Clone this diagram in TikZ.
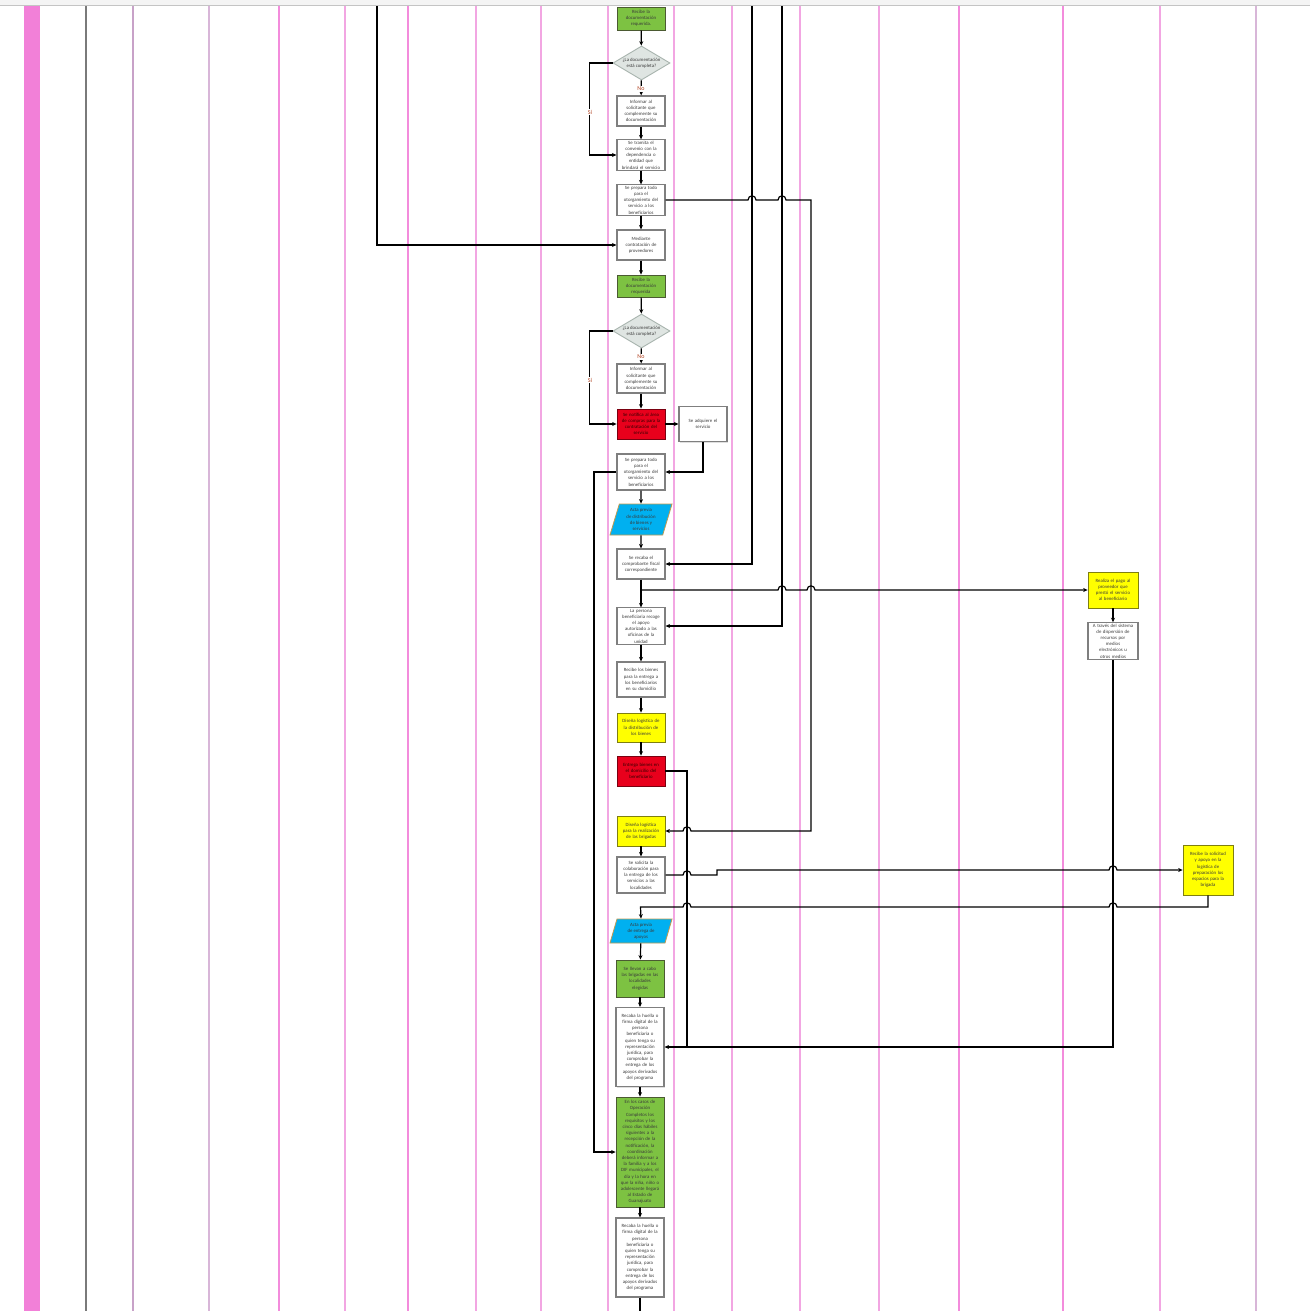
\documentclass[tikz,border=0pt]{standalone}
\usepackage{fontspec}
\setmainfont{Carlito}
\usetikzlibrary{shapes.geometric,arrows.meta,shadows}
\definecolor{topbg}{HTML}{F4F4F4}
\definecolor{topln}{HTML}{C4C4C4}
\definecolor{pinkbar}{HTML}{F280D8}
\definecolor{lgray}{HTML}{7A7A7A}
\definecolor{lmauve}{HTML}{C8A2C8}
\definecolor{lmauve2}{HTML}{D8B6D8}
\definecolor{lpink}{HTML}{F38CDC}
\definecolor{lpink2}{HTML}{F2A6E2}
\definecolor{boxgray}{HTML}{7F7F7F}
\definecolor{gfill}{HTML}{7DC242}
\definecolor{gline}{HTML}{4B5A32}
\definecolor{rfill}{HTML}{E8001C}
\definecolor{rline}{HTML}{7A0010}
\definecolor{yfill}{HTML}{FFFF00}
\definecolor{yline}{HTML}{7F7F10}
\definecolor{bfill}{HTML}{00B0F0}
\definecolor{bline}{HTML}{C09A50}
\definecolor{dfill}{HTML}{DFE5E2}
\definecolor{dline}{HTML}{A8B4AE}
\definecolor{txt}{HTML}{3A3A3A}
\definecolor{lbl}{HTML}{B0401E}
\begin{document}
\begin{tikzpicture}[x=1pt,y=-1pt,
  every node/.style={font=\fontsize{4.8}{6.2}\selectfont, text=txt},
  base/.style={align=center, minimum width=48, text width=46, inner sep=1pt,
    drop shadow={opacity=0.25,shadow xshift=1pt,shadow yshift=-1pt}},
  wbox/.style={base, draw=boxgray, line width=1.1pt, fill=white},
  gbox/.style={base, draw=gline, line width=0.8pt, fill=gfill},
  rbox/.style={base, draw=rline, line width=0.8pt, fill=rfill, text=black!80!red},
  ybox/.style={base, draw=yline, line width=0.8pt, fill=yfill},
  dia/.style={shape=diamond, draw=dline, line width=0.9pt, fill=dfill, aspect=1.7,
    inner sep=0pt, minimum width=57, minimum height=34, align=center},
  para/.style={shape=trapezium, trapezium left angle=67, trapezium right angle=113,
    trapezium stretches body, draw=bline, line width=0.8pt, fill=bfill,
    inner sep=0pt, align=center, minimum width=62},
  conn/.style={draw=black, line width=1.2pt, -{Stealth[length=4.5pt,width=4pt]}},
  plain/.style={draw=black, line width=1.2pt},
  lab/.style={fill=white, inner sep=0.6pt, text=lbl, font=\fontsize{6}{7}\selectfont},
  hopR/.style 2 args={insert path={-- (#1-4,#2) .. controls (#1-4,#2-5.5) and (#1+4,#2-5.5) .. (#1+4,#2)}},
  hopL/.style 2 args={insert path={-- (#1+4,#2) .. controls (#1+4,#2-5.5) and (#1-4,#2-5.5) .. (#1-4,#2)}}
]
\useasboundingbox (0,0) rectangle (1310,1311);
\fill[white] (0,0) rectangle (1310,1311);
\fill[topbg] (0,0) rectangle (1310,5);
\draw[topln, line width=1.6pt] (0,5.5) -- (1310,5.5);
\fill[pinkbar] (24,6.3) rectangle (40,1311);
\foreach \x/\c in {86/lgray,133/lmauve,209/lmauve2,279/lpink,345/lpink2,408/lpink,476/lpink2,541/lpink2,
  608/lpink2,674/lpink2,732/lpink2,800/lpink2,879/lpink2,959/lpink,1063/lpink,1160/lpink2,1256/lmauve2}
  \draw[\c, line width=1.6pt] (\x,6.3) -- (\x,1311);

% main column
\node[gbox, minimum height=23] (n1) at (641,18.5) {Recibe la\\documentación\\requerida.};
\node[dia] (d1) at (641.5,63) {¿La documentación\\está completa?};
\node[wbox, minimum height=30] (i1) at (641,111) {Informar al\\solicitante que\\complemente su\\documentación};
\node[wbox, minimum height=30] (t1) at (641,155) {Se tramita el\\convenio con la\\dependencia o\\entidad que\\brindará el servicio};
\node[wbox, minimum height=30] (p1) at (641,200) {Se prepara todo\\para el\\otorgamiento del\\servicio a los\\beneficiarios};
\node[wbox, minimum height=30] (m1) at (641,245) {Mediante\\contratación de\\proveedores};
\node[gbox, minimum height=22] (n2) at (641,286) {Recibe la\\documentación\\requerida};
\node[dia] (d2) at (641.5,331) {¿La documentación\\está completa?};
\node[wbox, minimum height=29] (i2) at (641,378.5) {Informar al\\solicitante que\\complemente su\\documentación};
\node[rbox, minimum height=30] (r1) at (641,424) {Se notifica al área\\de compras para la\\contratación del\\servicio};
\node[wbox, minimum height=35] (a1) at (703,424) {Se adquiere el\\servicio};
\node[wbox, minimum height=36] (p2) at (641,472) {Se prepara todo\\para el\\otorgamiento del\\servicio a los\\beneficiarios};
\node[para, minimum height=31] (b1) at (641,519.5) {Acta previa\\de distribución\\de bienes y\\servicios};
\node[wbox, minimum height=30] (c1) at (641,564) {Se recaba el\\comprobante fiscal\\correspondiente};
\node[wbox, minimum height=36] (pb) at (641,626) {La persona\\beneficiaria recoge\\el apoyo\\autorizado a las\\oficinas de la\\unidad};
\node[wbox, minimum height=35] (rb) at (641,679.5) {Recibe los bienes\\para la entrega a\\los beneficiarios\\en su domicilio};
\node[ybox, minimum height=29] (y1) at (641,727.5) {Diseña logística de\\la distribución de\\los bienes};
\node[rbox, minimum height=30] (r2) at (641,771) {Entrega bienes en\\el domicilio del\\beneficiario};
\node[ybox, minimum height=30] (y2) at (641,831) {Diseña logística\\para la realización\\de las brigadas};
\node[wbox, minimum height=36] (s1) at (641,875) {Se solicita la\\colaboración para\\la entrega de los\\servicios a las\\localidades};
\node[para, minimum height=24] (b2) at (641,931) {Acta previa\\de entrega de\\apoyos};
\node[gbox, minimum height=37] (g3) at (640,978.5) {Se llevan a cabo\\las brigadas en las\\localidades\\elegidas};
\node[wbox, minimum height=79] (h1) at (640,1047) {Recaba la huella o\\firma digital de la\\persona\\beneficiaria o\\quien tenga su\\representación\\jurídica, para\\comprobar la\\entrega de los\\apoyos derivados\\del programa};
\node[gbox, minimum height=110] (g4) at (640,1152) {En los casos de\\Operación\\Completos los\\requisitos y los\\cinco días hábiles\\siguientes a la\\recepción de la\\notificación, la\\coordinación\\deberá informar a\\la familia y a los\\DIF municipales, el\\día y la hora en\\que la niña, niño o\\adolescente llegará\\al Estado de\\Guanajuato};
\node[wbox, minimum height=79] (h2) at (640,1257.5) {Recaba la huella o\\firma digital de la\\persona\\beneficiaria o\\quien tenga su\\representación\\jurídica, para\\comprobar la\\entrega de los\\apoyos derivados\\del programa};

% right column
\node[ybox, minimum width=50, minimum height=36] (pay) at (1113,590) {Realiza el pago al\\proveedor que\\prestó el servicio\\al beneficiario};
\node[wbox, minimum width=50, minimum height=36] (disp) at (1113,641) {A través del sistema\\de dispersión de\\recursos por\\medios\\electrónicos u\\otros medios};
\node[ybox, minimum width=50, minimum height=50] (yr) at (1208,870) {Recibe la solicitud\\y apoya en la\\logística de\\preparación los\\espacios para la\\brigada};

% free ends
\coordinate (top1) at (377,6.3);
\coordinate (top2) at (752,6.3);
\coordinate (top3) at (782,6.3);
\coordinate (br) at (640.5,590);
\coordinate (bot) at (640,1311);

% connectors
\draw[conn] (n1) -- (d1);
\draw[conn] (d1) -- (i1);
\node[lab] (no1) at (641,89) {No};
\draw[conn] (i1) -- (t1);
\draw[conn] (d1.west) -- ++(-23,0) |- (t1.west);
\node[lab] (si1) at (590,112) {Sí};
\draw[conn] (t1) -- (p1);
\draw[conn] (p1) -- (m1);
\draw[conn] (m1) -- (n2);
\draw[conn] (n2) -- (d2);
\draw[conn] (d2) -- (i2);
\node[lab] (no2) at (641,357) {No};
\draw[conn] (i2) -- (r1);
\draw[conn] (d2.west) -- ++(-23,0) |- (r1.west);
\node[lab] (si2) at (590,380) {Sí};
\draw[conn] (r1) -- (a1);
\draw[conn] (a1.south) |- (p2.east);
\draw[conn] (p2) -- (b1);
\draw[conn] (b1) -- (c1);
\draw[conn] (c1) -- (pb);
\draw[conn] (pb) -- (rb);
\draw[conn] (rb) -- (y1);
\draw[conn] (y1) -- (r2);
\draw[conn] (y2) -- (s1);
\draw[conn] (b2) -- (g3);
\draw[conn] (g3) -- (h1);
\draw[conn] (h1) -- (g4);
\draw[conn] (g4) -- (h2);
\draw[plain] (h2) -- (bot);

\draw[conn] (top1) |- (m1.west);
\draw[conn] (top2) |- (c1.east);
\draw[conn] (top3) |- (pb.east);
\draw[conn] (p1.east) [hopR={752}{200}] [hopR={782}{200}] -- (811,200) -- (811,831) [hopL={687}{831}] -- (y2.east);
\draw[conn] (br) [hopR={782}{590}] [hopR={811}{590}] -- (pay.west);
\draw[conn] (pay) -- (disp);
\draw[conn] (disp.south) -- (1113,1047) -- (h1.east);
\draw[plain] (r2.east) -| (687,1047);
\draw[conn] (s1.east) [hopR={687}{875}] -- (717,875) -- (717,870) [hopR={1113}{870}] -- (yr.west);
\draw[conn] (yr.south) -- (1208,907) [hopL={1113}{907}] [hopL={687}{907}] -- (640.5,907) -- (b2.north);
\draw[conn] (p2.west) -- (594,472) |- (g4.west);
\end{tikzpicture}
\end{document}
